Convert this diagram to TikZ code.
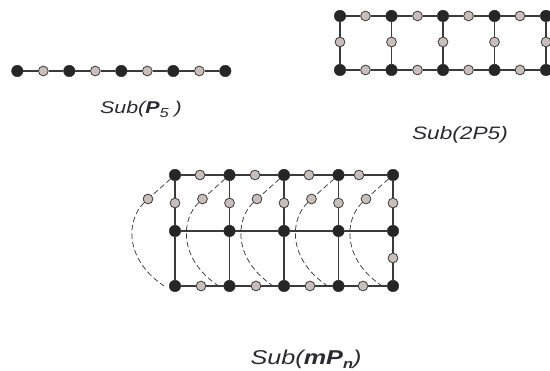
\documentclass[tikz,border=0pt]{standalone}
\usepackage{graphicx}
\usepackage{fontspec}
\setmainfont{Liberation Sans}
\definecolor{nodeblack}{HTML}{262626}
\definecolor{nodegray}{HTML}{C9BEBA}
\definecolor{edgecol}{HTML}{3A3A3A}
\definecolor{textcol}{HTML}{2A2A32}
\newcommand{\subsc}[1]{\raisebox{-0.4ex}{\fontsize{13}{14}\selectfont #1}}
\begin{document}
\begin{tikzpicture}[x=1pt,y=-1pt,
  bk/.style={circle,fill=nodeblack,draw=nodeblack,inner sep=0pt,minimum size=11.5pt},
  gy/.style={circle,fill=nodegray,draw=edgecol,line width=0.8pt,inner sep=0pt,minimum size=9.8pt},
  edge/.style={draw=edgecol,line width=1.1pt},
  arcd/.style={draw=edgecol,line width=0.75pt,dash pattern=on 5.5pt off 3pt},
  lbl/.style={text=textcol,inner sep=0pt,anchor=base}]
\useasboundingbox (0,0) rectangle (550,371);
\clip (0,0) rectangle (550,371);

% ---------- Sub(P5) ----------
\foreach \i in {0,...,8} {
  \ifodd\i
    \node[gy] (p\i) at ({17.3+26*\i},71) {};
  \else
    \node[bk] (p\i) at ({17.3+26*\i},71) {};
  \fi
}
\foreach \i [evaluate=\i as \j using int(\i+1)] in {0,...,7}
  \draw[edge] (p\i) -- (p\j);
\node[lbl] (l1) at (141,114) {\scalebox{1.26}[1]{\fontsize{17}{20}\selectfont\itshape Sub(\textbf{P}\subsc{5} )}};

% ---------- Sub(2P5) ----------
\foreach \i/\x in {1/340,2/391.5,3/443,4/494.5,5/546} {
  \node[bk] (t\i) at (\x,16) {};
  \node[bk] (b\i) at (\x,70) {};
  \node[gy] (v\i) at (\x,42) {};
  \draw[edge] (t\i) -- (v\i) -- (b\i);
}
\foreach \i/\x in {1/365.5,2/417.5,3/468.5,4/520} {
  \node[gy] (tg\i) at (\x,16) {};
  \node[gy] (bg\i) at (\x,70) {};
}
\foreach \i [evaluate=\i as \j using int(\i+1)] in {1,...,4} {
  \draw[edge] (t\i) -- (tg\i) -- (t\j);
  \draw[edge] (b\i) -- (bg\i) -- (b\j);
}
\coordinate (tend) at (560,16);
\coordinate (bend) at (560,70);
\draw[edge] (t5) -- (tend);
\draw[edge] (b5) -- (bend);
\node[lbl] (l2) at (460,139.3) {\scalebox{1.26}[1]{\fontsize{18}{21}\selectfont\itshape Sub(2P5)}};

% ---------- Sub(mPn) ----------
\foreach \i/\x in {1/175,2/229.5,3/284,4/338.5,5/393} {
  \node[bk] (A\i) at (\x,175) {};
  \node[bk] (M\i) at (\x,231) {};
  \node[bk] (B\i) at (\x,286) {};
  \node[gy] (V\i) at (\x,203) {};
  \node[gy] (C\i) at ({\x-27},199) {};
  \coordinate (E\i) at ({\x-11},286);
  \coordinate (P\i) at ({\x-48},219);
  \coordinate (Q\i) at ({\x-52},258);
  \draw[edge] (A\i) -- (V\i) -- (M\i);
  \draw[arcd] (A\i) -- (C\i) .. controls (P\i) and (Q\i) .. (E\i);
}
\node[gy] (R5) at (393,258) {};
\draw[edge] (M1) -- (B1);
\draw[edge] (M2) -- (B2);
\draw[edge] (M3) -- (B3);
\draw[edge] (M4) -- (B4);
\draw[edge] (M5) -- (R5) -- (B5);
\foreach \i/\x/\y in {1/200/201,2/255/256,3/309/310,4/359/363} {
  \node[gy] (TA\i) at (\x,175) {};
  \node[gy] (BA\i) at (\y,286) {};
}
\foreach \i [evaluate=\i as \j using int(\i+1)] in {1,...,4} {
  \draw[edge] (A\i) -- (TA\i) -- (A\j);
  \draw[edge] (B\i) -- (BA\i) -- (B\j);
  \draw[edge] (M\i) -- (M\j);
}
\node[lbl] (l3) at (306,364.3) {\scalebox{1.26}[1]{\fontsize{20}{24}\selectfont\itshape Sub(\textbf{mP}\subsc{\textbf{n}})}};
\end{tikzpicture}
\end{document}
